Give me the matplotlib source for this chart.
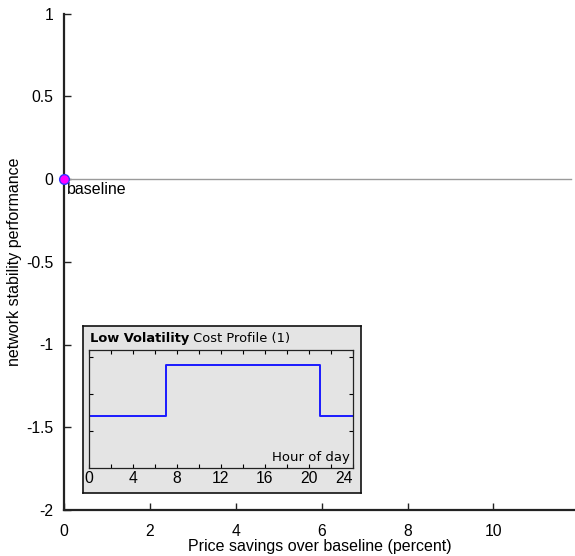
import matplotlib
matplotlib.use("Agg")
import matplotlib.pyplot as plt

# Main panel data
baseline_x = [0.0]
baseline_y = [0.0]
reference_x = [0.0, 11.8]
reference_y = [0.0, 0.0]
x_ticks = [0, 2, 4, 6, 8, 10]
y_ticks = [-2, -1.5, -1, -0.5, 0, 0.5, 1]
y_tick_labels = ["-2", "-1.5", "-1", "-0.5", "0", "0.5", "1"]

# Cost profile (inset): hour of day vs relative cost
profile_hours = [0, 7, 7, 21, 21, 24]
profile_cost = [1.4, 1.4, 2.8, 2.8, 1.4, 1.4]
hour_ticks = list(range(0, 25, 2))
hour_labels = [str(h) if h % 4 == 0 else "" for h in hour_ticks]

W, H = 575, 556
fig = plt.figure(figsize=(W / 100, H / 100), dpi=100)

def px_axes(x0, y0, x1, y1):
    return fig.add_axes([x0 / W, 1 - y1 / H, (x1 - x0) / W, (y1 - y0) / H])

sans = ["Liberation Sans", "DejaVu Sans"]

ax = px_axes(64, 13.5, 575, 510)
ax.set_xlim(0, 11.9)
ax.set_ylim(-2, 1)
for s in ("top", "right"):
    ax.spines[s].set_visible(False)
for s in ("left", "bottom"):
    ax.spines[s].set_linewidth(1.6)
    ax.spines[s].set_color("#222222")
ax.set_xticks(x_ticks)
ax.set_yticks(y_ticks)
ax.set_yticklabels(y_tick_labels)
ax.tick_params(direction="in", length=5, width=1, color="#222222",
               labelsize=11.3)
ax.tick_params(axis="x", pad=10)
ax.tick_params(axis="y", pad=7.5)
for lab in ax.get_xticklabels() + ax.get_yticklabels():
    lab.set_family(sans)
ax.plot(reference_x, reference_y, color="#9a9a9a", lw=1.0, zorder=2)
ax.plot(baseline_x, baseline_y, "o", color="magenta", mec="#3333ff",
        mew=1.0, ms=7, zorder=5, clip_on=False)
ax.annotate("baseline", (baseline_x[0], baseline_y[0]), xytext=(2, -2.5),
            textcoords="offset points", ha="left", va="top",
            fontsize=11.5, family=sans)
ax.set_xlabel("Price savings over baseline (percent)", fontsize=11.5,
              family=sans, labelpad=0)
ax.set_ylabel("network stability performance", fontsize=11.5,
              family=sans, labelpad=3)

# Inset frame
box = px_axes(83, 326, 361, 493)
box.set_facecolor("#e4e4e4")
box.set_xticks([])
box.set_yticks([])
for s in box.spines.values():
    s.set_linewidth(1.2)
    s.set_color("#111111")

t1 = box.text(7 / 278, 1 - 19 / 167, "Low Volatility", transform=box.transAxes,
              fontsize=9.4, fontweight="bold", ha="left", va="bottom",
              family="DejaVu Sans")
box.annotate(" Cost Profile (1)", xy=(1, 0), xycoords=t1, ha="left",
             va="bottom", fontsize=9.4, family="DejaVu Sans")

inset = px_axes(89, 350, 352.5, 468)
inset.set_facecolor("#e4e4e4")
inset.plot(profile_hours, profile_cost, color="#1a1aff", lw=1.4)
inset.set_xlim(0, 24)
inset.set_ylim(0, 3.2)
inset.set_xticks(hour_ticks)
inset.set_xticklabels(hour_labels)
inset.set_yticks([1, 2, 3])
inset.set_yticklabels([])
inset.tick_params(direction="in", length=3, width=0.8, top=True, right=True,
                  labelsize=11.3, pad=2.5)
xlabs = inset.get_xticklabels()
for lab in xlabs:
    lab.set_family(sans)
xlabs[-1].set_horizontalalignment("right")
for s in inset.spines.values():
    s.set_linewidth(0.9)
    s.set_color("#222222")
inset.text(0.99, 0.03, "Hour of day", transform=inset.transAxes,
           ha="right", va="bottom", fontsize=9.5, family="DejaVu Sans")

fig.savefig("out.png", dpi=100)
